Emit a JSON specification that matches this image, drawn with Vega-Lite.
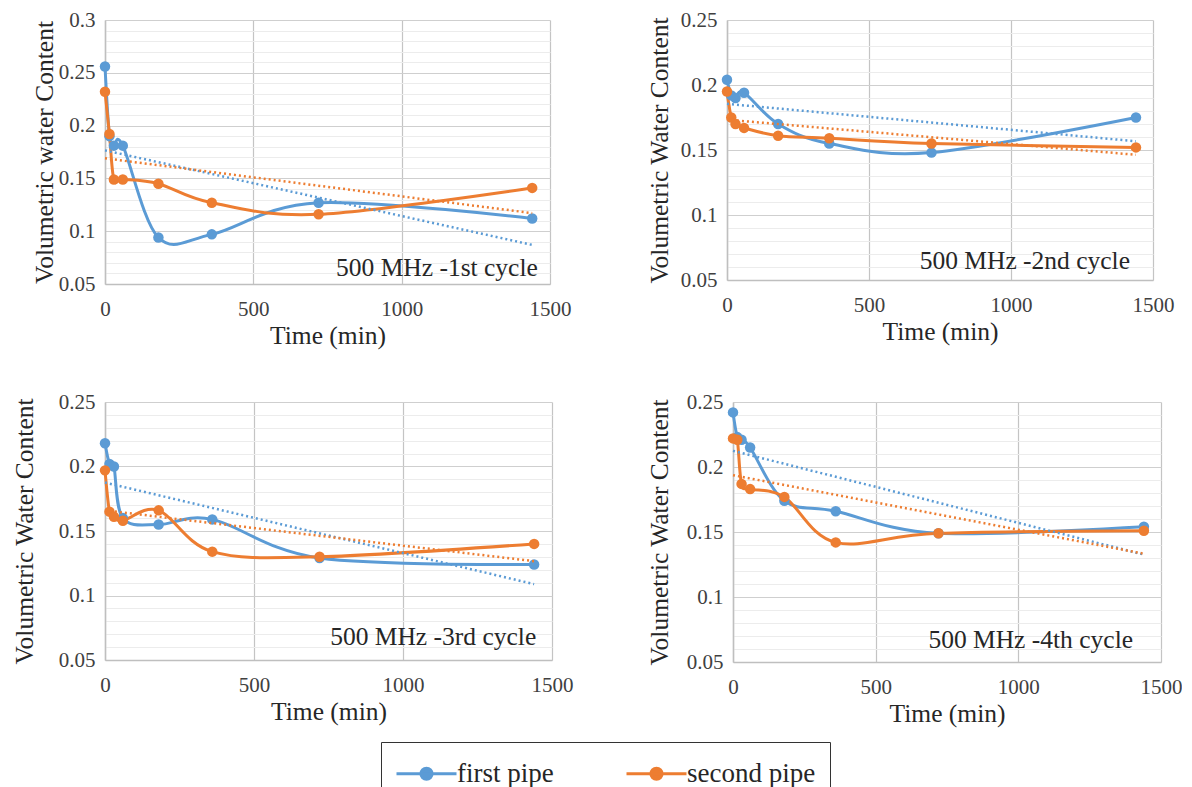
{
  "$schema": "https://vega.github.io/schema/vega-lite/v6.json",
  "background": "white",
  "padding": {"left": 12, "top": 9, "right": 0, "bottom": 0},
  "datasets": {
    "vwc": [
      {"cycle": "1st", "pipe": "first pipe", "t": 0, "vwc": 0.256},
      {"cycle": "1st", "pipe": "first pipe", "t": 15, "vwc": 0.19},
      {"cycle": "1st", "pipe": "first pipe", "t": 30, "vwc": 0.181},
      {"cycle": "1st", "pipe": "first pipe", "t": 60, "vwc": 0.181},
      {"cycle": "1st", "pipe": "first pipe", "t": 180, "vwc": 0.094},
      {"cycle": "1st", "pipe": "first pipe", "t": 360, "vwc": 0.097},
      {"cycle": "1st", "pipe": "first pipe", "t": 720, "vwc": 0.127},
      {"cycle": "1st", "pipe": "first pipe", "t": 1440, "vwc": 0.112},
      {"cycle": "1st", "pipe": "second pipe", "t": 0, "vwc": 0.232},
      {"cycle": "1st", "pipe": "second pipe", "t": 15, "vwc": 0.192},
      {"cycle": "1st", "pipe": "second pipe", "t": 30, "vwc": 0.149},
      {"cycle": "1st", "pipe": "second pipe", "t": 60, "vwc": 0.149},
      {"cycle": "1st", "pipe": "second pipe", "t": 180, "vwc": 0.145},
      {"cycle": "1st", "pipe": "second pipe", "t": 360, "vwc": 0.127},
      {"cycle": "1st", "pipe": "second pipe", "t": 720, "vwc": 0.116},
      {"cycle": "1st", "pipe": "second pipe", "t": 1440, "vwc": 0.141},
      {"cycle": "2nd", "pipe": "first pipe", "t": 0, "vwc": 0.204},
      {"cycle": "2nd", "pipe": "first pipe", "t": 15, "vwc": 0.192},
      {"cycle": "2nd", "pipe": "first pipe", "t": 30, "vwc": 0.19},
      {"cycle": "2nd", "pipe": "first pipe", "t": 60, "vwc": 0.194},
      {"cycle": "2nd", "pipe": "first pipe", "t": 180, "vwc": 0.17},
      {"cycle": "2nd", "pipe": "first pipe", "t": 360, "vwc": 0.155},
      {"cycle": "2nd", "pipe": "first pipe", "t": 720, "vwc": 0.148},
      {"cycle": "2nd", "pipe": "first pipe", "t": 1440, "vwc": 0.175},
      {"cycle": "2nd", "pipe": "second pipe", "t": 0, "vwc": 0.195},
      {"cycle": "2nd", "pipe": "second pipe", "t": 15, "vwc": 0.175},
      {"cycle": "2nd", "pipe": "second pipe", "t": 30, "vwc": 0.17},
      {"cycle": "2nd", "pipe": "second pipe", "t": 60, "vwc": 0.167},
      {"cycle": "2nd", "pipe": "second pipe", "t": 180, "vwc": 0.161},
      {"cycle": "2nd", "pipe": "second pipe", "t": 360, "vwc": 0.159},
      {"cycle": "2nd", "pipe": "second pipe", "t": 720, "vwc": 0.155},
      {"cycle": "2nd", "pipe": "second pipe", "t": 1440, "vwc": 0.152},
      {"cycle": "3rd", "pipe": "first pipe", "t": 0, "vwc": 0.218},
      {"cycle": "3rd", "pipe": "first pipe", "t": 15, "vwc": 0.202},
      {"cycle": "3rd", "pipe": "first pipe", "t": 30, "vwc": 0.2},
      {"cycle": "3rd", "pipe": "first pipe", "t": 60, "vwc": 0.16},
      {"cycle": "3rd", "pipe": "first pipe", "t": 180, "vwc": 0.155},
      {"cycle": "3rd", "pipe": "first pipe", "t": 360, "vwc": 0.159},
      {"cycle": "3rd", "pipe": "first pipe", "t": 720, "vwc": 0.129},
      {"cycle": "3rd", "pipe": "first pipe", "t": 1440, "vwc": 0.124},
      {"cycle": "3rd", "pipe": "second pipe", "t": 0, "vwc": 0.197},
      {"cycle": "3rd", "pipe": "second pipe", "t": 15, "vwc": 0.165},
      {"cycle": "3rd", "pipe": "second pipe", "t": 30, "vwc": 0.161},
      {"cycle": "3rd", "pipe": "second pipe", "t": 60, "vwc": 0.158},
      {"cycle": "3rd", "pipe": "second pipe", "t": 180, "vwc": 0.166},
      {"cycle": "3rd", "pipe": "second pipe", "t": 360, "vwc": 0.134},
      {"cycle": "3rd", "pipe": "second pipe", "t": 720, "vwc": 0.13},
      {"cycle": "3rd", "pipe": "second pipe", "t": 1440, "vwc": 0.14},
      {"cycle": "4th", "pipe": "first pipe", "t": 0, "vwc": 0.242},
      {"cycle": "4th", "pipe": "first pipe", "t": 15, "vwc": 0.223},
      {"cycle": "4th", "pipe": "first pipe", "t": 30, "vwc": 0.221},
      {"cycle": "4th", "pipe": "first pipe", "t": 60, "vwc": 0.215},
      {"cycle": "4th", "pipe": "first pipe", "t": 180, "vwc": 0.174},
      {"cycle": "4th", "pipe": "first pipe", "t": 360, "vwc": 0.166},
      {"cycle": "4th", "pipe": "first pipe", "t": 720, "vwc": 0.149},
      {"cycle": "4th", "pipe": "first pipe", "t": 1440, "vwc": 0.154},
      {"cycle": "4th", "pipe": "second pipe", "t": 0, "vwc": 0.222},
      {"cycle": "4th", "pipe": "second pipe", "t": 15, "vwc": 0.221},
      {"cycle": "4th", "pipe": "second pipe", "t": 30, "vwc": 0.187},
      {"cycle": "4th", "pipe": "second pipe", "t": 60, "vwc": 0.183},
      {"cycle": "4th", "pipe": "second pipe", "t": 180, "vwc": 0.177},
      {"cycle": "4th", "pipe": "second pipe", "t": 360, "vwc": 0.142},
      {"cycle": "4th", "pipe": "second pipe", "t": 720, "vwc": 0.149},
      {"cycle": "4th", "pipe": "second pipe", "t": 1440, "vwc": 0.151}
    ]
  },
  "columns": 2,
  "align": "none",
  "spacing": {"row": 42, "column": 74},
  "concat": [
    {
      "width": 445, "height": 264,
      "data": {"name": "vwc"},
      "encoding": {
        "x": {"field": "t", "type": "quantitative", "scale": {"domain": [0, 1500], "nice": false}, "axis": {"title": "Time (min)", "values": [0, 500, 1000, 1500], "format": "d"}},
        "y": {"field": "vwc", "type": "quantitative", "scale": {"domain": [0.05, 0.3], "nice": false, "zero": false},
          "axis": {"title": "Volumetric water Content", "titlePadding": 1,
            "values": [0.05,0.06,0.07,0.08,0.09,0.1,0.11,0.12,0.13,0.14,0.15,0.16,0.17,0.18,0.19,0.2,0.21,0.22,0.23,0.24,0.25,0.26,0.27,0.28,0.29,0.3]}},
        "color": {"field": "pipe", "type": "nominal", "scale": {"domain": ["first pipe", "second pipe"], "range": ["#5B9BD5", "#ED7D31"]},
          "legend": {"title": null, "orient": "none", "legendX": 276, "legendY": 722, "direction": "horizontal",
            "labelFont": "Liberation Serif", "labelFontSize": 27, "labelColor": "#262626",
            "symbolType": "M-1,0L2.75,0M1.225,0A0.35,0.35,0,1,1,0.525,0A0.35,0.35,0,1,1,1.225,0",
            "symbolSize": 1024, "symbolStrokeWidth": 3, "columnPadding": 66, "labelOffset": 27,
            "strokeColor": "#333333", "fillColor": "white", "padding": 14}}
      },
      "layer": [
        {"transform": [{"filter": "datum.cycle === '1st'"}], "mark": {"type": "line", "interpolate": "cardinal", "strokeWidth": 3}},
        {"transform": [{"filter": "datum.cycle === '1st'"}], "mark": {"type": "point", "filled": true, "size": 110, "opacity": 1}},
        {"transform": [{"filter": "datum.cycle === '1st'"}, {"regression": "vwc", "on": "t", "groupby": ["pipe"]}], "mark": {"type": "line", "strokeDash": [2, 3], "strokeWidth": 2.5}},
        {"transform": [{"filter": "datum.cycle === '1st' && datum.t === 1440 && datum.pipe === 'first pipe'"}],
          "mark": {"type": "text", "align": "right", "baseline": "middle", "font": "Liberation Serif", "fontSize": 25.5},
          "encoding": {"x": {"datum": 1459}, "y": {"datum": 0.065}, "text": {"value": "500 MHz -1st cycle"}, "color": {"value": "#262626"}}}
      ]
    },
    {
      "width": 426, "height": 260,
      "data": {"name": "vwc"},
      "encoding": {
        "x": {"field": "t", "type": "quantitative", "scale": {"domain": [0, 1500], "nice": false}, "axis": {"title": "Time (min)", "values": [0, 500, 1000, 1500], "format": "d"}},
        "y": {"field": "vwc", "type": "quantitative", "scale": {"domain": [0.05, 0.25], "nice": false, "zero": false},
          "axis": {"title": "Volumetric Water Content", "titlePadding": 8,
            "values": [0.05,0.06,0.07,0.08,0.09,0.1,0.11,0.12,0.13,0.14,0.15,0.16,0.17,0.18,0.19,0.2,0.21,0.22,0.23,0.24,0.25]}},
        "color": {"field": "pipe", "type": "nominal", "scale": {"domain": ["first pipe", "second pipe"], "range": ["#5B9BD5", "#ED7D31"]},
          "legend": {"title": null, "orient": "none", "legendX": 276, "legendY": 722, "direction": "horizontal",
            "labelFont": "Liberation Serif", "labelFontSize": 27, "labelColor": "#262626",
            "symbolType": "M-1,0L2.75,0M1.225,0A0.35,0.35,0,1,1,0.525,0A0.35,0.35,0,1,1,1.225,0",
            "symbolSize": 1024, "symbolStrokeWidth": 3, "columnPadding": 66, "labelOffset": 27,
            "strokeColor": "#333333", "fillColor": "white", "padding": 14}}
      },
      "layer": [
        {"transform": [{"filter": "datum.cycle === '2nd'"}], "mark": {"type": "line", "interpolate": "cardinal", "strokeWidth": 3}},
        {"transform": [{"filter": "datum.cycle === '2nd'"}], "mark": {"type": "point", "filled": true, "size": 110, "opacity": 1}},
        {"transform": [{"filter": "datum.cycle === '2nd'"}, {"regression": "vwc", "on": "t", "groupby": ["pipe"]}], "mark": {"type": "line", "strokeDash": [2, 3], "strokeWidth": 2.5}},
        {"transform": [{"filter": "datum.cycle === '2nd' && datum.t === 1440 && datum.pipe === 'first pipe'"}],
          "mark": {"type": "text", "align": "right", "baseline": "middle", "font": "Liberation Serif", "fontSize": 25.5},
          "encoding": {"x": {"datum": 1419}, "y": {"datum": 0.065}, "text": {"value": "500 MHz -2nd cycle"}, "color": {"value": "#262626"}}}
      ]
    },
    {
      "width": 447, "height": 258,
      "data": {"name": "vwc"},
      "encoding": {
        "x": {"field": "t", "type": "quantitative", "scale": {"domain": [0, 1500], "nice": false}, "axis": {"title": "Time (min)", "values": [0, 500, 1000, 1500], "format": "d"}},
        "y": {"field": "vwc", "type": "quantitative", "scale": {"domain": [0.05, 0.25], "nice": false, "zero": false},
          "axis": {"title": "Volumetric Water Content", "titlePadding": 21,
            "values": [0.05,0.06,0.07,0.08,0.09,0.1,0.11,0.12,0.13,0.14,0.15,0.16,0.17,0.18,0.19,0.2,0.21,0.22,0.23,0.24,0.25]}},
        "color": {"field": "pipe", "type": "nominal", "scale": {"domain": ["first pipe", "second pipe"], "range": ["#5B9BD5", "#ED7D31"]},
          "legend": {"title": null, "orient": "none", "legendX": 276, "legendY": 722, "direction": "horizontal",
            "labelFont": "Liberation Serif", "labelFontSize": 27, "labelColor": "#262626",
            "symbolType": "M-1,0L2.75,0M1.225,0A0.35,0.35,0,1,1,0.525,0A0.35,0.35,0,1,1,1.225,0",
            "symbolSize": 1024, "symbolStrokeWidth": 3, "columnPadding": 66, "labelOffset": 27,
            "strokeColor": "#333333", "fillColor": "white", "padding": 14}}
      },
      "layer": [
        {"transform": [{"filter": "datum.cycle === '3rd'"}], "mark": {"type": "line", "interpolate": "cardinal", "strokeWidth": 3}},
        {"transform": [{"filter": "datum.cycle === '3rd'"}], "mark": {"type": "point", "filled": true, "size": 110, "opacity": 1}},
        {"transform": [{"filter": "datum.cycle === '3rd'"}, {"regression": "vwc", "on": "t", "groupby": ["pipe"]}], "mark": {"type": "line", "strokeDash": [2, 3], "strokeWidth": 2.5}},
        {"transform": [{"filter": "datum.cycle === '3rd' && datum.t === 1440 && datum.pipe === 'first pipe'"}],
          "mark": {"type": "text", "align": "right", "baseline": "middle", "font": "Liberation Serif", "fontSize": 25.5},
          "encoding": {"x": {"datum": 1447}, "y": {"datum": 0.068}, "text": {"value": "500 MHz -3rd cycle"}, "color": {"value": "#262626"}}}
      ]
    },
    {
      "width": 428, "height": 260,
      "data": {"name": "vwc"},
      "encoding": {
        "x": {"field": "t", "type": "quantitative", "scale": {"domain": [0, 1500], "nice": false}, "axis": {"title": "Time (min)", "values": [0, 500, 1000, 1500], "format": "d"}},
        "y": {"field": "vwc", "type": "quantitative", "scale": {"domain": [0.05, 0.25], "nice": false, "zero": false},
          "axis": {"title": "Volumetric Water Content", "titlePadding": 14,
            "values": [0.05,0.06,0.07,0.08,0.09,0.1,0.11,0.12,0.13,0.14,0.15,0.16,0.17,0.18,0.19,0.2,0.21,0.22,0.23,0.24,0.25]}},
        "color": {"field": "pipe", "type": "nominal", "scale": {"domain": ["first pipe", "second pipe"], "range": ["#5B9BD5", "#ED7D31"]},
          "legend": {"title": null, "orient": "none", "legendX": 276, "legendY": 722, "direction": "horizontal",
            "labelFont": "Liberation Serif", "labelFontSize": 27, "labelColor": "#262626",
            "symbolType": "M-1,0L2.75,0M1.225,0A0.35,0.35,0,1,1,0.525,0A0.35,0.35,0,1,1,1.225,0",
            "symbolSize": 1024, "symbolStrokeWidth": 3, "columnPadding": 66, "labelOffset": 27,
            "strokeColor": "#333333", "fillColor": "white", "padding": 14}}
      },
      "layer": [
        {"transform": [{"filter": "datum.cycle === '4th'"}], "mark": {"type": "line", "interpolate": "cardinal", "strokeWidth": 3}},
        {"transform": [{"filter": "datum.cycle === '4th'"}], "mark": {"type": "point", "filled": true, "size": 110, "opacity": 1}},
        {"transform": [{"filter": "datum.cycle === '4th'"}, {"regression": "vwc", "on": "t", "groupby": ["pipe"]}], "mark": {"type": "line", "strokeDash": [2, 3], "strokeWidth": 2.5}},
        {"transform": [{"filter": "datum.cycle === '4th' && datum.t === 1440 && datum.pipe === 'first pipe'"}],
          "mark": {"type": "text", "align": "right", "baseline": "middle", "font": "Liberation Serif", "fontSize": 25.5},
          "encoding": {"x": {"datum": 1402}, "y": {"datum": 0.067}, "text": {"value": "500 MHz -4th cycle"}, "color": {"value": "#262626"}}}
      ]
    }
  ],
  "resolve": {"scale": {"color": "shared"}},
  "config": {
    "view": {"stroke": null},
    "font": "Liberation Serif",
    "text": {"font": "Liberation Serif"},
    "axis": {
      "labelFont": "Liberation Serif", "labelFontSize": 21, "labelColor": "#404040",
      "titleFont": "Liberation Serif", "titleFontSize": 25.5, "titleFontWeight": "normal", "titleColor": "#262626",
      "ticks": false, "domainColor": "#bfbfbf", "domainWidth": 1.5, "labelFlush": false, "labelOverlap": false
    },
    "axisX": {"grid": true, "gridColor": "#c4c4c4", "gridWidth": 1.2, "labelPadding": 14, "titlePadding": 4},
    "axisY": {
      "grid": true, "labelPadding": 10,
      "gridColor": {"condition": {"test": "round(datum.value*100) % 5 === 0", "value": "#cfcfcf"}, "value": "#ececec"},
      "gridWidth": 1.2,
      "labelExpr": "round(datum.value*100) % 5 === 0 ? format(datum.value, '.2~f') : ''"
    },
    "legend": {"labelFont": "Liberation Serif", "labelFontSize": 27}
  }
}
